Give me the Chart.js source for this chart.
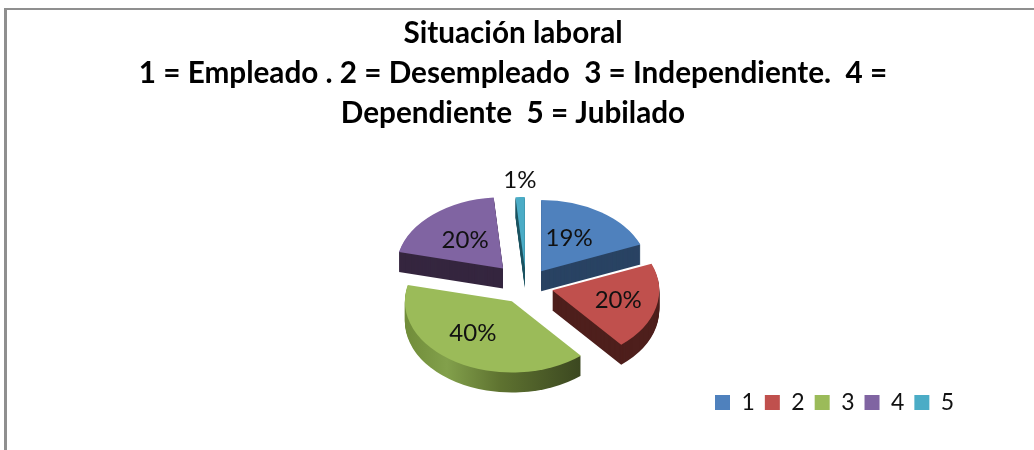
<!DOCTYPE html>
<html>
<head>
<meta charset="utf-8">
<style>
html,body{margin:0;padding:0;background:#fff;}
#wrap{position:relative;width:1034px;height:450px;overflow:hidden;}
#frame{position:absolute;left:4px;top:8px;width:1040px;height:460px;border-left:3px solid #8f8f8f;border-top:2px solid #8f8f8f;}
canvas{position:absolute;left:0;top:0;}
</style>
<script src="https://cdn.jsdelivr.net/npm/chart.js@4"></script>
</head>
<body>
<div id="wrap"><div id="frame"></div><canvas id="c" width="1034" height="450"></canvas></div>
<script>
const titleLines = ['Situación laboral', '1 = Empleado . 2 = Desempleado  3 = Independiente.  4 =', 'Dependiente  5 = Jubilado'];
const categories = ['1', '2', '3', '4', '5'];
const values = [19, 20, 40, 20, 1.4];
const colors = ['#4F81BD', '#C0504D', '#9BBB59', '#8064A2', '#4BACC6'];
const sideColors = ['#294363', '#4E1F1C', null, '#35263F', '#1E5563'];

const FONT = 'Lato, "Open Sans", sans-serif';
const CX = 526, CY = 286, RADIUS = 107, SQUASH = 0.665, DEPTH = 20;
const sliceExplode = [27, 27, 27, 35, 27];
const labelDelta = [[28, -33], [66, 10], [-39, 32], [-38, -28], [-5, -88]];

function apex(arc, i) {
  const mid = (arc.startAngle + arc.endAngle) / 2;
  return {
    x: CX + Math.cos(mid) * sliceExplode[i],
    y: CY + Math.sin(mid) * sliceExplode[i] * SQUASH
  };
}

function toScreen(ctx, arc, i, dy) {
  const p = apex(arc, i);
  ctx.translate(p.x, p.y + dy);
  ctx.scale(1, SQUASH);
  ctx.translate(-arc.x, -arc.y);
}

const pie3d = {
  id: 'pie3d',
  beforeDraw(chart) {
    const lg = chart.legend;
    const w = lg.right - lg.left;
    lg.left = 715 - lg.options.labels.padding;
    lg.right = lg.left + w;
    lg.top = 391 - lg.options.labels.padding;
  },
  beforeDatasetDraw(chart) {
    const ctx = chart.ctx;
    const arcs = chart.getDatasetMeta(0).data;
    for (let d = DEPTH; d >= 1; d--) {
      arcs.forEach((arc, i) => {
        ctx.save();
        toScreen(ctx, arc, i, d);
        let fill = sideColors[i];
        if (!fill) {
          fill = ctx.createLinearGradient(arc.x - 110, 0, arc.x + 70, 0);
          fill.addColorStop(0, '#6F8B38');
          fill.addColorStop(0.25, '#82A04B');
          fill.addColorStop(0.55, '#5E7230');
          fill.addColorStop(1, '#3B4720');
        }
        const ghost = Object.create(arc);
        ghost.options = Object.assign({}, arc.options, {backgroundColor: fill, borderWidth: 0});
        ghost.draw(ctx);
        ctx.restore();
      });
    }
    arcs.forEach((arc, i) => {
      ctx.save();
      toScreen(ctx, arc, i, 0);
      arc.draw(ctx);
      ctx.restore();
    });
    return false;
  },
  afterDraw(chart) {
    const ctx = chart.ctx;
    const arcs = chart.getDatasetMeta(0).data;
    ctx.save();
    ctx.font = '24px ' + FONT;
    ctx.fillStyle = '#111';
    ctx.textAlign = 'center';
    ctx.textBaseline = 'middle';
    arcs.forEach((arc, i) => {
      const p = apex(arc, i);
      ctx.fillText(Math.round(values[i]) + '%', p.x + labelDelta[i][0], p.y + labelDelta[i][1]);
    });
    ctx.restore();
  }
};

new Chart(document.getElementById('c'), {
  type: 'pie',
  data: {
    labels: categories,
    datasets: [{
      data: values,
      backgroundColor: colors,
      borderWidth: 0,
      radius: RADIUS,
      clip: false
    }]
  },
  plugins: [pie3d],
  options: {
    responsive: false,
    animation: false,
    devicePixelRatio: 1,
    events: [],
    layout: {padding: {left: 0, right: 8, top: 0, bottom: 20}},
    plugins: {
      tooltip: {enabled: false},
      title: {
        display: true,
        text: titleLines,
        color: '#000',
        font: {family: FONT, size: 29.7, weight: 'bold', lineHeight: 1.347},
        padding: {top: 13, bottom: 0}
      },
      legend: {
        display: true,
        position: 'bottom',
        align: 'start',
        labels: {
          boxWidth: 15,
          boxHeight: 15,
          padding: 10,
          color: '#111',
          font: {family: FONT, size: 23}
        }
      }
    }
  }
});
</script>
</body>
</html>
